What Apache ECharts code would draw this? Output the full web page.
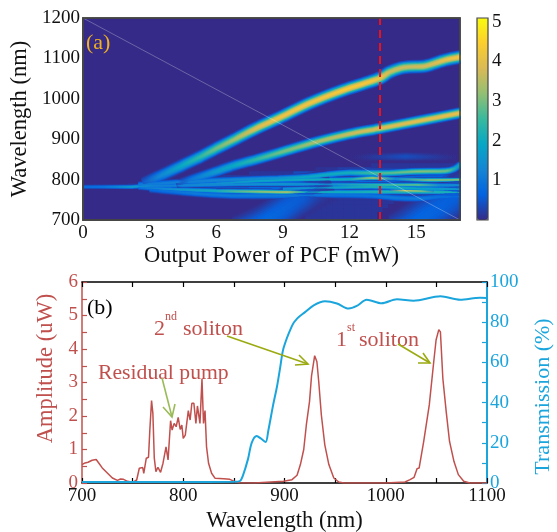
<!DOCTYPE html>
<html>
<head>
<meta charset="utf-8">
<script src="https://cdn.jsdelivr.net/npm/echarts@6/dist/echarts.min.js"></script>
<style>html,body{margin:0;padding:0;background:#fff}#c{width:557px;height:532px}</style>
</head>
<body>
<div id="c"></div>
<script>
// ---------- panel (a) data ----------
const parula = ['#352a87','#0363e1','#1485d4','#06a7c6','#38b99e','#92bf73','#d9ba56','#fcce2e','#f9fb0e'];
const colorMax = 5.09;
const powerMax = 16.97;
const redLinePower = 13.37;

// Ridges: output power (mW), wavelength (nm), amplitude
const ridge1P = [2.7,3.5,4.5,5.3,6,6.8,7.8,8.8,10.2,11.75,12.9,13.4,13.8,14.3,14.7,15.4,16.3,17];
const ridge1L = [791,810,836,857,877,899,927,952,989,1022,1042,1052,1066,1076,1079,1081,1096,1104];
const ridge1A = [0.5,1.3,2,2.5,3,3.4,4,4.3,4.3,4.5,4.4,4.2,3.8,3.8,3.8,3.9,4.2,4.4];

const ridge2P = [4.2,5,6,6.8,7.8,8.8,10.5,12,13.4,15.2,17];
const ridge2L = [787,802,820,835,850,866,893,913,927,946,965];
const ridge2A = [0.4,1.1,1.7,2,2.5,3,3.5,3.8,4,4.1,4.2];

const pumpP = [0,1,2.2,2.7,3.5];
const pumpL = [782,782,782,784,786];
const pumpA = [0.8,1,1.8,1.6,1.1];

const bandAP = [2.5,4,6,8.8,10,12,13.4,15,16.3,16.7,17];
const bandAL = [787,792,798,803,806,817,816,820,821,826,838];
const bandAA = [1.1,1.2,1.3,1.6,2,2.2,2.8,3.2,3,2,1.5];

const bandBP = [4,6,8,10,12,13,14,15.5,17];
const bandBL = [785,790,797,800,801,804,802,799,800];
const bandBA = [1.2,1.5,2,2.2,2.2,3.5,1.5,3.2,3.3];

const bandCP = [3,5,7,9,11,13,15,16,17];
const bandCL = [784,786,788,789,788,787,787,786,786];
const bandCA = [1.2,1.4,1.5,1.7,1.5,2.5,3,1.5,1.5];

const bandDP = [2.5,4,6,8,9.2,10,12,14,15,17];
const bandDL = [781,776,772,770,769,769,769,770,770,768];
const bandDA = [1,1.5,2.2,3.3,3.5,2.2,2.2,2.5,2.5,2.2];

const flashP = [13.8,14.5,15.2,15.8];
const flashL = [773,772,771,770];
const flashA = [1,4,3.5,1];

const bandEP = [3,5,7,9,11,13,14,15,16,17];
const bandEL = [776,766,760,760,762,760,755,753,757,758];
const bandEA = [0.8,1.1,1.1,1.1,1,1,1.1,1.1,0.9,0.8];

const bandFP = [9,11,13,15,17];
const bandFL = [777,780,782,778,776];
const bandFA = [1.5,1.8,2.4,2,1.7];

const hazeP = [12,14.5,17];
const hazeL = [855,857,855];
const hazeA = [0,0.4,0];

const lobe1P = [7,8.33,9.9,11.2];
const lobe1L = [666,700,757,790];
const lobe1A = [0.7,0.75,0.55,0];

const lobe2P = [14.2,15.2,16.75,17.5];
const lobe2L = [666,700,757,785];
const lobe2A = [0.65,0.72,0.6,0.35];

const ridges = [
  {p:lobe1P, l:lobe1L, a:lobe1A, w:40},
  {p:lobe2P, l:lobe2L, a:lobe2A, w:48},
  {p:hazeP,  l:hazeL,  a:hazeA,  w:10},
  {p:pumpP,  l:pumpL,  a:pumpA,  w:5},
  {p:bandEP, l:bandEL, a:bandEA, w:8},
  {p:bandAP, l:bandAL, a:bandAA, w:8},
  {p:bandCP, l:bandCL, a:bandCA, w:5},
  {p:bandFP, l:bandFL, a:bandFA, w:5},
  {p:bandBP, l:bandBL, a:bandBA, w:5},
  {p:bandDP, l:bandDL, a:bandDA, w:6},
  {p:flashP, l:flashL, a:flashA, w:4},
  {p:ridge2P,l:ridge2L,a:ridge2A,w:12},
  {p:ridge1P,l:ridge1L,a:ridge1A,w:14}
];

// Broad background glow, one digit per 0.25 mW cell (digit = amplitude x 8)
const glowRows = {
  700:'0000000000000000000000000000000000000000'+'1111111111111',
  710:'0000000000000000000000000000000000000000'+'1111111111111',
  720:'0000000000000000000000000000000000000000'+'11111111111111',
  730:'0000000000000000000000000000000000000000'+'111111111111111',
  740:'0000000000000000000000000000000000000000'+'1111111111111111',
  750:'000000000000000000000000000000'+'1111111111'+'11111111111'+'1111111111',
  760:'00000000000000000'+'1111111111111'+'222222222222'+'33333333333333333333333333',
  770:'00000000000000'+'22222222'+'444444444444'+'6666666666666666666666666666666666',
  780:'00000000'+'111111'+'3333'+'444444444444'+'66666666666666666666666666666666666666',
  790:'000000000000'+'11111111'+'444444444444'+'666666666666666666666666666666666666',
  800:'0000000000000000000000'+'2222222222'+'555555555555555555555555555555555555',
  810:'000000000000000000000000000000'+'11111111'+'333333'+'555555555555555555555555',
  820:'000000000000000000000000000000000000000000'+'1111'+'2222222222222222222222',
  830:'0000000000000000000000000000000000000000000000000000'+'1111111111111111'
};
const glowColumns = Array.from({length:68},(_,i)=>String(i*0.25));
const glowWavelengths = Array.from({length:50},(_,i)=>String(700+i*10));

// ---------- panel (b) data ----------
const redX = [700,703,706,710,714,716,720,725,730,735,738,741,745,750,754,756.6,760,761,763.5,765.7,767,768.7,770,771.4,773,775,777.6,780,783,785,787.5,789,791,793,795,797,798.6,800,802,805,806.8,808.5,810.5,812.5,814,816.5,818.5,820,821.5,823,825,828,831.5,840,846,851,856,870,899,907.4,912.4,915.7,919,921.6,924.7,926.7,929.8,932,933.8,936.4,939.8,943.8,948.7,953.6,958.6,1000,1019,1024,1028,1031,1033,1037.5,1043,1047.4,1049.7,1052.4,1054,1056.4,1059.7,1063,1067.4,1071.7,1077,1083,1100];
const redY = [0.55,0.6,0.62,0.68,0.7,0.62,0.45,0.3,0.15,0.08,0.12,0.11,0.05,0.02,0.09,0.44,0.46,0.29,0.74,0.77,1.58,2.46,2.08,0.74,0.34,0.47,0.32,0.59,1.08,0.69,1.86,1.58,1.78,1.68,1.96,1.6,1.73,1.33,1.43,2.16,1.88,2.38,2.38,1.78,2.3,1.78,3.1,1.78,2.16,1.08,0.59,0.29,0.14,0.13,0.11,0.04,0.01,0,0.05,0.1,0.23,0.55,1,1.74,2.43,3.2,3.8,3.62,3.03,2.03,1.14,0.55,0.15,0.03,0,0,0.03,0.1,0.17,0.43,0.45,1.24,2.33,3.62,4.27,4.58,4.51,3.12,2.13,1.24,0.64,0.25,0.05,0,0];
const blueX = [700,750,800,850,856,859,864,867.6,872.5,877,881.4,884,888.7,892.6,895.6,899,907.4,912.4,920.3,928.8,940,951.8,963.3,971.4,981.2,996,1011,1027.5,1054,1073.4,1093,1100];
const blueY = [0.5,0.5,0.5,0.6,1,3.8,12,20,23.4,22,20.4,26,38.6,48,57,67,78.2,81.8,85,88.4,90.4,89.3,86.8,88.1,91.2,89.4,91.4,90.7,92.9,91.2,92.2,92];

const axisFont = 'Liberation Serif';
const red = '#c0504d', blue = '#1aa5dd', olive = '#9aaa10', pumpArrow = '#9bbb59', frame = '#444';
const plain = v => String(v);

function hexRgb(h){return [parseInt(h.slice(1,3),16),parseInt(h.slice(3,5),16),parseInt(h.slice(5,7),16)];}
function colorAt(v){
  const t = Math.max(0,Math.min(1,v/colorMax))*(parula.length-1);
  const i = Math.min(parula.length-2,Math.floor(t)), f = t-i;
  const a = hexRgb(parula[i]), b = hexRgb(parula[i+1]);
  return a.map((c,k)=>Math.round(c+(b[k]-c)*f));
}

const glowData = [];
Object.keys(glowRows).forEach(k=>{
  const row = glowRows[k], yi = glowWavelengths.indexOf(k);
  for(let i=0;i<row.length;i++){ if(row[i]!=='0') glowData.push([i,yi,Number(row[i])/8]); }
});

// each layer is one contour of a ridge cross-section: [share of the ridge amplitude, share of its width]
const layers = [[0.06,1],[0.12,0.9],[0.2,0.82],[0.3,0.74],[0.42,0.66],[0.55,0.57],[0.68,0.48],[0.8,0.38],[0.9,0.27],[0.97,0.14]];
const series = [{
  type:'heatmap', xAxisIndex:1, yAxisIndex:1, data:glowData, z:1, silent:true, progressive:0
}];
layers.forEach(lv=>{
  ridges.forEach(r=>{
    const p0 = r.p[0], pn = r.p[r.p.length-1];
    const stops = r.p.map((p,i)=>{
      const v = r.a[i]*lv[0], c = colorAt(v);
      const al = Math.min(1,v/0.12);
      return {offset:(p-p0)/(pn-p0),color:`rgba(${c[0]},${c[1]},${c[2]},${al})`};
    });
    series.push({
      type:'line', xAxisIndex:0, yAxisIndex:0, z:2, silent:true, showSymbol:false, smooth:0.3,
      data:r.p.map((p,i)=>[p,r.l[i]]),
      lineStyle:{width:r.w*lv[1],cap:'butt',color:{type:'linear',x:0,y:0,x2:1,y2:0,colorStops:stops}}
    });
  });
});
// thin white diagonal and red dashed marker
series.push({type:'line',xAxisIndex:0,yAxisIndex:0,z:3,silent:true,showSymbol:false,
  data:[[0,1200],[powerMax,700]],lineStyle:{width:0.7,color:'rgba(255,255,255,0.4)'}});
series.push({type:'line',xAxisIndex:0,yAxisIndex:0,z:4,silent:true,showSymbol:false,
  data:[[redLinePower,700],[redLinePower,1200]],lineStyle:{width:2,color:'#e8141c',type:[8,5]}});
// panel (b)
series.push({type:'line',xAxisIndex:3,yAxisIndex:3,z:3,showSymbol:false,
  data:redX.map((x,i)=>[x,redY[i]]),lineStyle:{width:1.5,color:red}});
series.push({type:'line',xAxisIndex:3,yAxisIndex:4,z:4,showSymbol:false,smooth:0.3,
  data:blueX.map((x,i)=>[x,blueY[i]]),lineStyle:{width:2,color:blue}});

const lab = (size,color)=>({fontFamily:axisFont,fontSize:size,color:color,formatter:plain});
const nameLab = (size,color,padding)=>({fontFamily:axisFont,fontSize:size,color:color,padding:padding||0});
function arrow(pts,color){
  return {type:'polyline',shape:{points:pts},style:{stroke:color,fill:null,lineWidth:1.6},silent:true,z:50};
}
function txt(x,y,s,size,color){
  return {type:'text',x:x,y:y,silent:true,z:50,style:{text:s,fontFamily:axisFont,fontSize:size,fill:color,textBaseline:'middle'}};
}
// wide strokes bleed past the plot frame; white masks keep the plot edge clean
function mask(x,y,w,h){
  return {type:'rect',shape:{x:x,y:y,width:w,height:h},style:{fill:'#fff'},silent:true,z:5};
}

const option = {
  animation:false,
  backgroundColor:'#fff',
  grid:[
    {left:83,top:18,width:377,height:202,show:true,backgroundColor:parula[0],borderColor:frame,borderWidth:1.5,outerBoundsMode:'none'},
    {left:477,top:18,width:11,height:202,show:true,backgroundColor:'transparent',borderColor:frame,borderWidth:1.2,z:20,outerBoundsMode:'none'},
    {left:82,top:282,width:405,height:201,outerBoundsMode:'none'}
  ],
  xAxis:[
    {type:'value',gridIndex:0,z:10,min:0,max:powerMax,interval:3,splitLine:{show:false},
      axisLine:{show:true,lineStyle:{color:frame,width:1.5}},axisTick:{show:false},
      axisLabel:Object.assign(lab(19,'#111'),{margin:4,showMaxLabel:false}),
      name:'Output Power of PCF (mW)',nameLocation:'middle',nameGap:25,nameTextStyle:nameLab(22.5,'#111')},
    {type:'category',gridIndex:0,data:glowColumns,show:false},
    {type:'value',gridIndex:1,min:0,max:1,show:false},
    {type:'value',gridIndex:2,min:700,max:1100,interval:100,minorTick:{show:true,splitNumber:2,length:5,lineStyle:{color:'#000',width:1.2}},
      splitLine:{show:false},minorSplitLine:{show:false},
      axisLine:{show:true,onZero:false,lineStyle:{color:'#000',width:1.5}},
      axisTick:{show:true,inside:true,length:5,lineStyle:{color:'#000',width:1.2}},
      axisLabel:Object.assign(lab(19,'#111'),{margin:4}),
      name:'Wavelength (nm)',nameLocation:'middle',nameGap:27,nameTextStyle:nameLab(22.5,'#111')},
    {type:'value',gridIndex:2,position:'top',min:700,max:1100,interval:100,minorTick:{show:true,splitNumber:2,length:5,lineStyle:{color:'#000',width:1.2}},
      splitLine:{show:false},axisLine:{show:true,onZero:false,lineStyle:{color:'#000',width:1.5}},
      axisTick:{show:true,inside:true,length:5,lineStyle:{color:'#000',width:1.2}},axisLabel:{show:false}}
  ],
  yAxis:[
    {type:'value',gridIndex:0,z:10,min:700,max:1200,interval:100,splitLine:{show:false},
      axisLine:{show:true,lineStyle:{color:frame,width:1.5}},axisTick:{show:false},
      axisLabel:Object.assign(lab(19,'#111'),{margin:3}),
      name:'Wavelength (nm)',nameLocation:'middle',nameGap:44,nameTextStyle:nameLab(22.5,'#111')},
    {type:'category',gridIndex:0,data:glowWavelengths,show:false},
    {type:'value',gridIndex:1,position:'right',min:0,max:colorMax,interval:1,splitLine:{show:false},
      axisLine:{show:false},axisTick:{show:true,inside:true,length:3,lineStyle:{color:frame,width:1}},
      axisLabel:Object.assign(lab(19,'#111'),{margin:4,showMaxLabel:false,showMinLabel:false})},
    {type:'value',gridIndex:2,min:0,max:6,interval:1,minorTick:{show:true,splitNumber:2,length:5,lineStyle:{color:red,width:1.2}},
      splitLine:{show:false},axisLine:{show:true,onZero:false,lineStyle:{color:red,width:1.5}},
      axisTick:{show:true,inside:true,length:5,lineStyle:{color:red,width:1.2}},
      axisLabel:Object.assign(lab(19,red),{margin:4,padding:[0,0,8,0]}),
      name:'Amplitude (uW)',nameLocation:'middle',nameGap:23,nameTextStyle:nameLab(22.5,red,[0,0,0,28])},
    {type:'value',gridIndex:2,position:'right',min:0,max:100,interval:20,minorTick:{show:true,splitNumber:2,length:5,lineStyle:{color:blue,width:1.2}},
      splitLine:{show:false},axisLine:{show:true,onZero:false,lineStyle:{color:blue,width:2}},
      axisTick:{show:true,inside:true,length:5,lineStyle:{color:blue,width:1.2}},
      axisLabel:Object.assign(lab(19,blue),{margin:3,padding:[0,0,8,0]}),
      name:'Transmission (%)',nameLocation:'middle',nameGap:45,nameRotate:90,nameTextStyle:nameLab(22,blue,[0,28,0,0])}
  ],
  visualMap:{
    type:'continuous',seriesIndex:0,dimension:2,min:0,max:colorMax,calculable:false,
    left:477,top:18,itemWidth:11,itemHeight:202,padding:0,orient:'vertical',
    inRange:{color:parula},hoverLink:false,z:10
  },
  series:series,
  graphic:[
    mask(83,221,400,45),
    mask(461,10,16,225),
    mask(60,221,23,30),
    {type:'rect',shape:{x:83,y:18,width:377,height:202},style:{fill:null,stroke:frame,lineWidth:1.5},silent:true,z:6},
    txt(86,32,'(a)',22,'#f0b020'),
    txt(87,297,'(b)',22,'#000'),
    txt(98,362,'Residual pump',21.7,red),
    txt(154,318,'2',22,red),
    txt(165,311,'nd',12,red),
    txt(183,318,'soliton',22,red),
    txt(336,329,'1',22,red),
    txt(347,322,'st',12,red),
    txt(359,329,'soliton',22,red),
    arrow([[227,336],[308,364]],olive),
    arrow([[299,355],[308,364],[295,365]],olive),
    arrow([[398,344],[430,363]],olive),
    arrow([[423,353],[430,363],[418,363]],olive),
    arrow([[162,378],[172,417]],pumpArrow),
    arrow([[163,407],[172,417],[175,404]],pumpArrow)
  ]
};
const chart = echarts.init(document.getElementById('c'),null,{renderer:'canvas'});
chart.setOption(option);
</script>
</body>
</html>
